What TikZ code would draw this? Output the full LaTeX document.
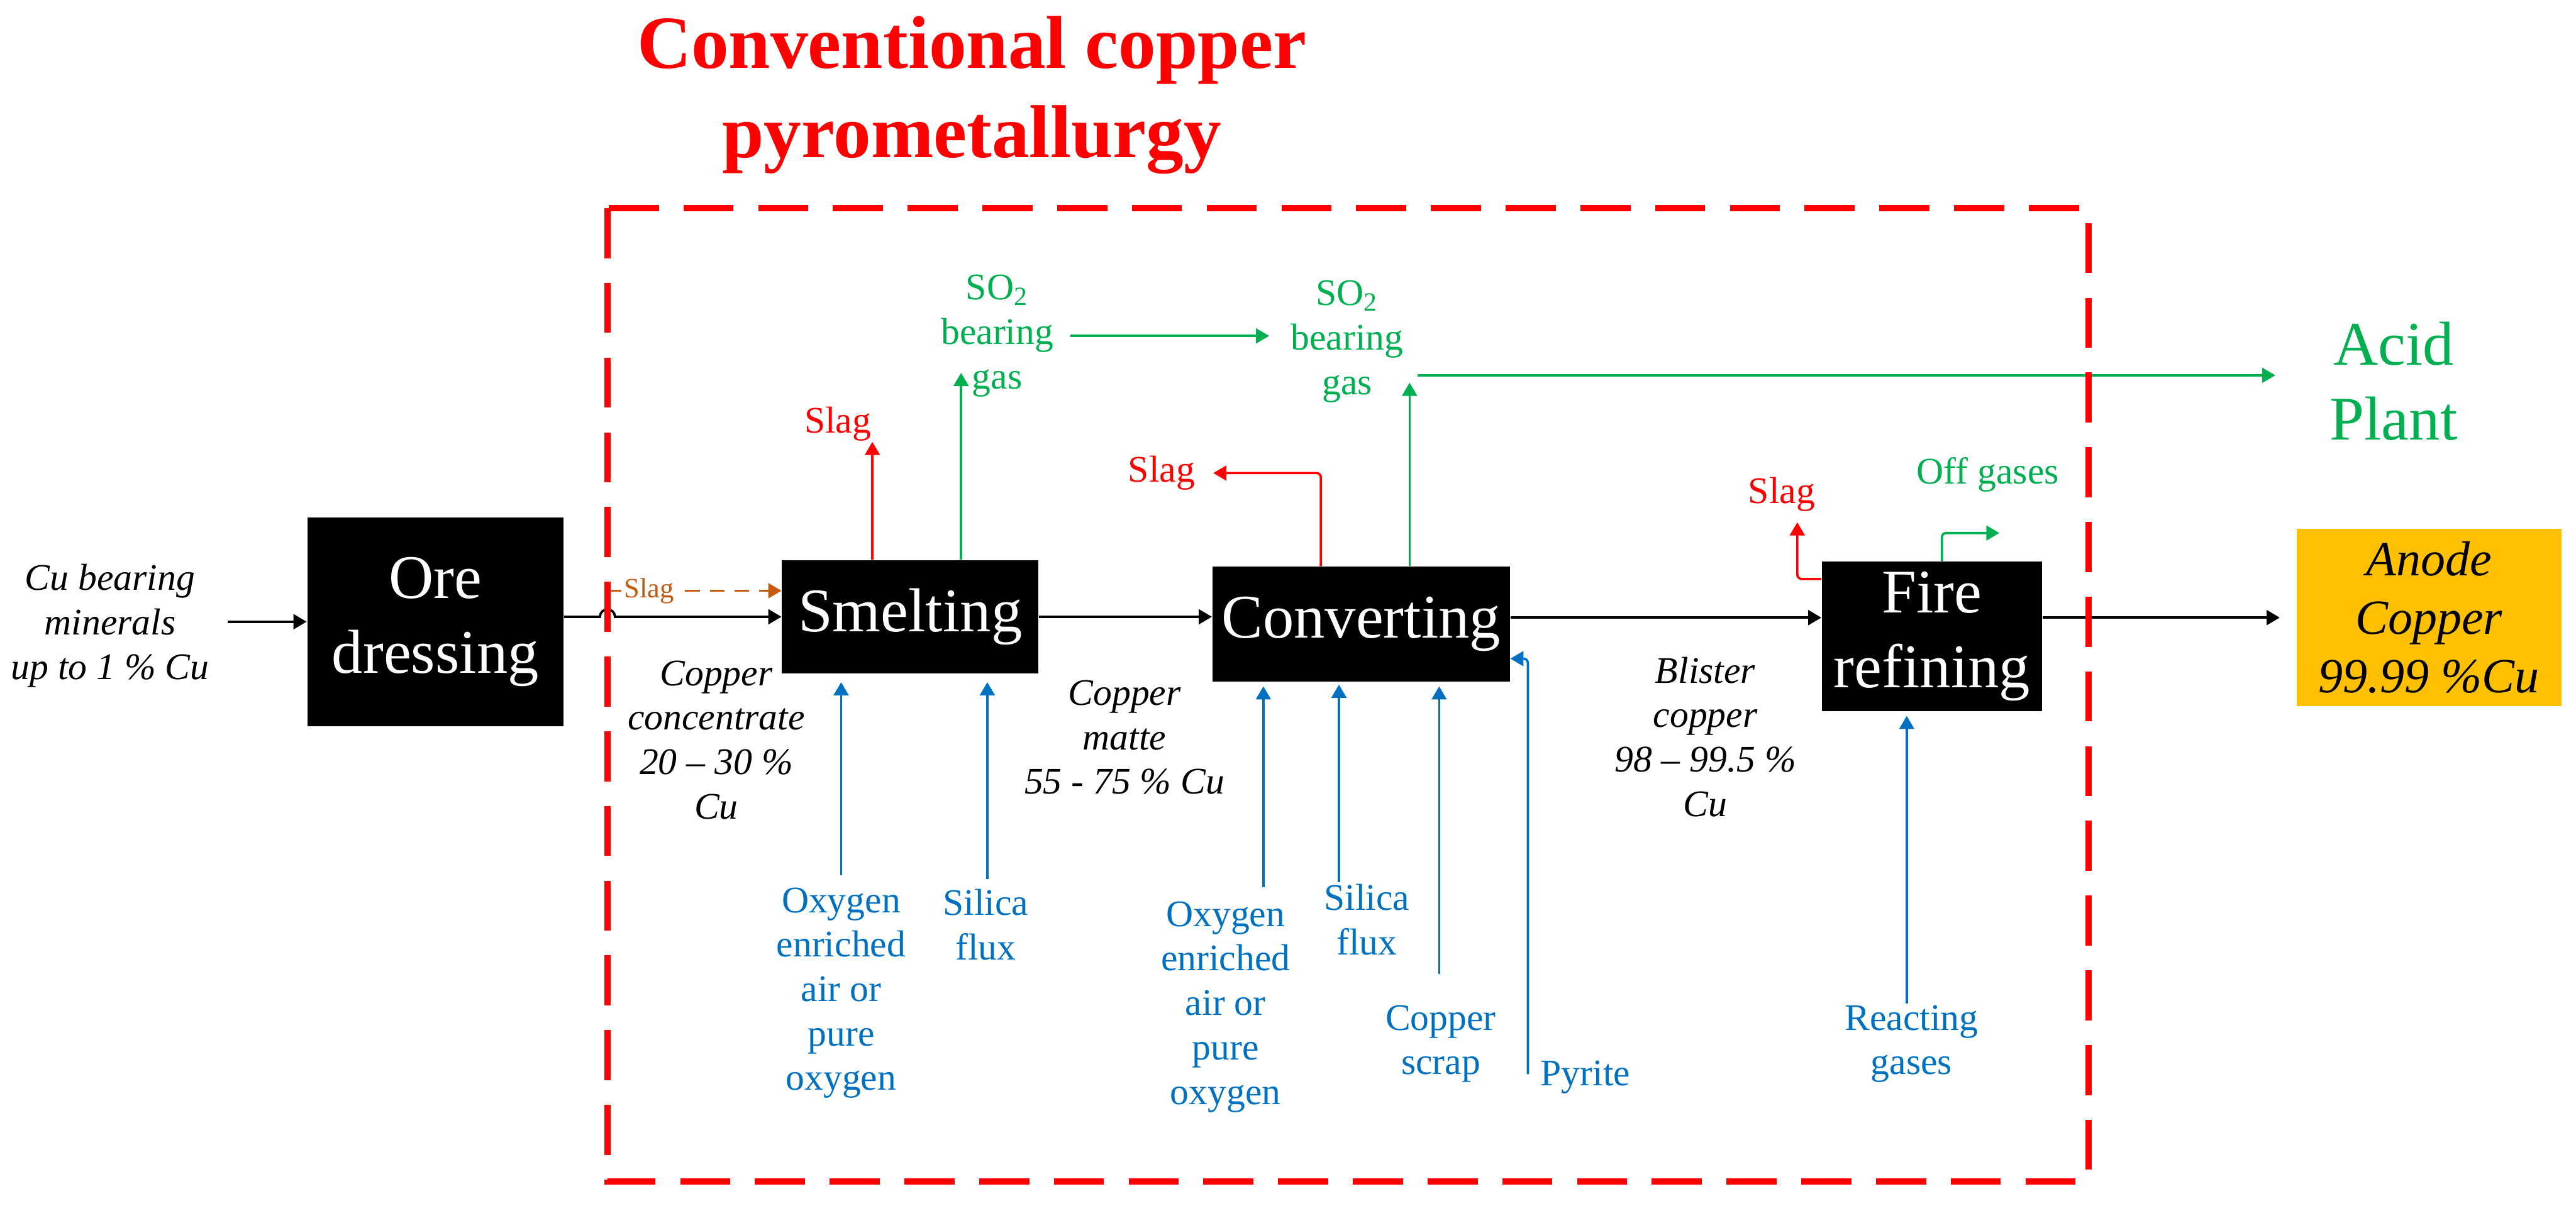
\documentclass[tikz,border=0pt]{standalone}
\usepackage{fontspec}
\setmainfont{Liberation Serif}
\usepackage{tikz}
\usetikzlibrary{arrows.meta,positioning}
\definecolor{slagred}{RGB}{255,0,0}
\definecolor{gasgreen}{RGB}{0,176,80}
\definecolor{feedblue}{RGB}{0,112,192}
\definecolor{slagbrown}{RGB}{197,90,17}
\definecolor{anodegold}{RGB}{255,192,0}
\tikzset{
  bx/.style={rectangle,fill=black,text=white,align=center,inner sep=0pt,
             font=\fontsize{21.5}{26}\selectfont},
  bxA/.style={bx,fill=anodegold,text=black,
              font=\fontsize{17}{20.3}\selectfont\itshape},
  fl/.style={-{Triangle[length=1.6mm,width=1.8mm]},line width=0.8pt},
  flR/.style={fl,slagred,rounded corners=1.5pt},
  flG/.style={fl,gasgreen,rounded corners=1.5pt},
  flB/.style={fl,feedblue},
  flS/.style={fl,slagbrown,dash pattern=on 1.8mm off 1.2mm},
  frm/.style={draw=slagred,line width=2.3pt,dash pattern=on 6.1mm off 3mm},
  lbl/.style={align=center,font=\fontsize{13}{15.4}\selectfont},
  lblI/.style={lbl,font=\fontsize{13}{15.4}\selectfont\itshape},
  lblB/.style={lbl,text=feedblue},
  lblG/.style={lbl,text=gasgreen},
  lblR/.style={lbl,text=slagred},
}
\begin{document}
\begin{tikzpicture}[x=0.02cm,y=-0.02cm]
  \useasboundingbox (0,0) rectangle (1568,734);
  % title and the pyrometallurgy zone
  \node[font=\fontsize{26}{31}\selectfont\bfseries,text=slagred,align=center]
    (ttl) at (591.5,58) {Conventional copper\\pyrometallurgy};
  \node[minimum width=18.02cm,minimum height=11.84cm,inner sep=0pt]
    (zone) at (820.5,423) {};
  % process steps
  \node[bx,minimum width=3.12cm,minimum height=2.54cm] (ore) at (265,378.5) {Ore\\dressing};
  \node[bx,minimum width=3.12cm,minimum height=1.38cm] (smelt) at (554,375.5) {Smelting};
  \node[bx,minimum width=3.62cm,minimum height=1.40cm] (conv) at (828.5,380) {Converting};
  \node[bx,minimum width=2.68cm,minimum height=1.82cm] (fire) at (1176,387.5) {Fire\\refining};
  \node[bxA,minimum width=3.22cm,minimum height=2.16cm] (anode) at (1478.5,376) {Anode\\Copper\\99.99 \%Cu};
  % stream labels
  \node[lblI] (feedin) at (67,381) {Cu bearing\\minerals\\up to 1 \% Cu};
  \node[lblI] (conc) at (436,450.5) {Copper\\concentrate\\20 -- 30 \%\\Cu};
  \node[lblI] (matte) at (684.5,449) {Copper\\matte\\55 - 75 \% Cu};
  \node[lblI] (blister) at (1038,448.6) {Blister\\copper\\98 -- 99.5 \%\\Cu};
  % inputs
  \node[lblB] (oxyS) at (512,604.5) {Oxygen\\enriched\\air or\\pure\\oxygen};
  \node[lblB] (silS) at (600,563) {Silica\\flux};
  \node[lblB] (oxyC) at (746,613) {Oxygen\\enriched\\air or\\pure\\oxygen};
  \node[lblB] (silC) at (832,560) {Silica\\flux};
  \node[lblB] (scrap) at (877,635.5) {Copper\\scrap};
  \node[lblB] (pyr) at (965,655.8) {Pyrite};
  \node[lblB] (react) at (1163.5,635.5) {Reacting\\gases};
  % outputs
  \node[lblG] (soS) at (607,204.5) {SO\textsubscript{2}\\bearing\\gas};
  \node[lblG] (soC) at (820,208) {SO\textsubscript{2}\\bearing\\gas};
  \node[lblG] (offg) at (1210,289) {Off gases};
  \node[lblG,font=\fontsize{21.5}{26}\selectfont] (acid) at (1457,232) {Acid\\Plant};
  \node[lblR] (slagS) at (510,258) {Slag};
  \node[lblR] (slagC) at (707,288) {Slag};
  \node[lblR] (slagF) at (1084.5,301) {Slag};
  % main flow
  \draw[fl,shorten <=0.1cm] (feedin.east |- ore.west) -- (ore.west);
  \draw[fl] (ore.east |- smelt.west) -- ([xshift=-2.6pt]zone.west |- smelt.west)
    arc[start angle=180,end angle=0,radius=2.6pt] -- (smelt.west);
  \coordinate (bs) at ([yshift=-0.38cm]smelt.north west);
  \draw[flS,shorten <=1.3pt] (zone.west |- bs) --
    node[pos=0.24,fill=white,inner sep=1pt,text=slagbrown,
         font=\fontsize{9.7}{11}\selectfont] (slagB) {Slag} (bs);
  \draw[fl] (smelt.east) -- (smelt.east -| conv.west);
  \draw[fl] ([yshift=0.08cm]conv.east) -- ([yshift=0.08cm]conv.east -| fire.west);
  \draw[fl,shorten >=0.2cm] (anode.west -| fire.east) -- (anode.west);
  % smelting outlets
  \coordinate (s1) at (531,269);
  \draw[flR] (smelt.north -| s1) -- (s1);
  \coordinate (g1) at (585,227);
  \draw[flG] (smelt.north -| g1) -- (g1);
  \draw[flG,shorten <=0.08cm,shorten >=0.14cm] (soS.east) -- (soS.east -| soC.west);
  % converting outlets
  \draw[flR] ([xshift=-0.49cm]conv.north) |- ([xshift=0.1cm]slagC.east);
  \coordinate (g2) at (858,233);
  \draw[flG] (conv.north -| g2) -- (g2);
  \coordinate (g3) at (863,228.5);
  \draw[flG,shorten >=0.54cm] (g3) -- (g3 -| acid.west);
  % fire refining outlets
  \coordinate (s3) at (1094,318);
  \draw[flR] ([yshift=0.7cm]fire.west) -| (s3);
  \coordinate (g5) at (1217,324.5);
  \draw[flG] ([xshift=0.12cm]fire.north) |- (g5);
  % feeds
  \coordinate (b1) at (512,533);
  \coordinate (b2) at (601,535);
  \coordinate (b3) at (769,540);
  \coordinate (b4) at (815,537);
  \coordinate (b5) at (876,593);
  \coordinate (b6) at (930,654);
  \coordinate (b7) at (1160.6,611);
  \draw[flB,shorten >=0.1cm] (b1) -- (b1 |- smelt.south);
  \draw[flB,shorten >=0.1cm] (b2) -- (b2 |- smelt.south);
  \draw[flB,shorten >=0.05cm] (b3) -- (b3 |- conv.south);
  \draw[flB,shorten >=0.03cm] (b4) -- (b4 |- conv.south);
  \draw[flB,shorten >=0.05cm] (b5) -- (b5 |- conv.south);
  \draw[flB,rounded corners=1.5pt] (b6) |- ([yshift=-0.42cm]conv.east);
  \draw[flB,shorten >=0.05cm] (b7) -- (b7 |- fire.south);
  % zone frame on top
  \draw[frm] (zone.north west) rectangle (zone.south east);
\end{tikzpicture}
\end{document}
